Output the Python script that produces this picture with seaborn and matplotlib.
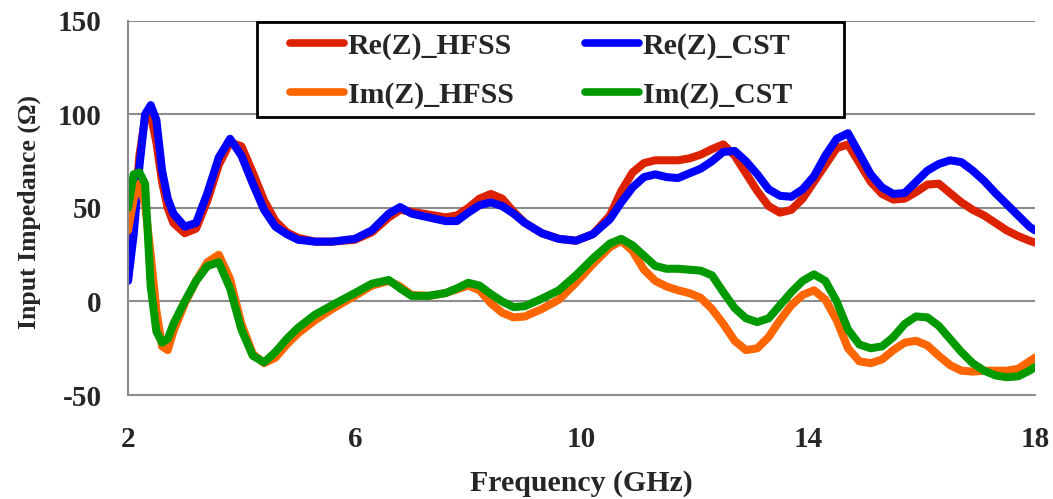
import matplotlib
matplotlib.use("Agg")
import matplotlib.pyplot as plt
from matplotlib.patches import Rectangle
import seaborn as sns
import pandas as pd

freq = [2.0, 2.1, 2.2, 2.3, 2.4, 2.5, 2.6, 2.7, 2.8, 3.0, 3.2, 3.4, 3.6, 3.8,
        4.0, 4.2, 4.4, 4.6, 4.8, 5.0, 5.3, 5.6, 6.0, 6.3, 6.6, 6.8, 7.0, 7.3,
        7.6, 7.8, 8.0, 8.2, 8.4, 8.6, 8.8, 9.0, 9.3, 9.6, 9.9, 10.2, 10.5, 10.7,
        10.9, 11.1, 11.3, 11.5, 11.7, 11.9, 12.1, 12.3, 12.5, 12.7, 12.9, 13.1,
        13.3, 13.5, 13.7, 13.9, 14.1, 14.3, 14.5, 14.7, 14.9, 15.1, 15.3, 15.5,
        15.7, 15.9, 16.1, 16.3, 16.5, 16.7, 16.9, 17.1, 17.3, 17.5, 17.7, 17.9, 18.0]

re_hfss = [12, 42, 78, 98, 100, 85, 64, 50, 42, 36.5, 39, 54, 73, 85,
           83, 69, 54, 43, 37, 34, 32, 32, 33, 37, 45, 49, 48, 46.5,
           45, 46, 50, 55, 57.5, 55, 48, 42, 36.5, 33.5, 32.5, 36, 46, 59,
           69, 74, 75.5, 75.5, 75.5, 76.5, 78.5, 81.5, 84, 78, 68.5, 59,
           51, 47.5, 49, 55, 64, 73, 82, 84, 74, 64, 57.5, 54.5,
           55, 58.5, 62.5, 63, 58, 53, 49, 46, 42, 38, 35, 32.5, 31.5]

re_cst = [11, 36, 72, 100, 105, 97, 70, 55, 47, 40, 42, 58, 77, 87,
          78, 63, 49, 40, 36, 33, 32, 32, 33.5, 38, 47, 50.5, 47, 45,
          43, 43, 47.5, 51.5, 53, 51, 47, 42, 36.5, 33.5, 32.5, 36, 44, 53,
          61, 66.5, 68, 66.5, 66, 68.5, 71, 75, 80, 80.5, 75, 68,
          60, 56.5, 56, 60, 67, 78, 87, 90, 79, 68, 61, 57.5,
          58, 64, 70, 73.5, 75.5, 74.5, 70, 64.5, 58, 52, 46, 40, 38]

im_hfss = [38, 55, 63, 52, 25, -5, -24, -26, -16, -1, 11, 21, 25, 12,
           -12, -28, -33, -30, -23, -17, -10, -4, 3, 8.5, 11, 8, 3.5, 3,
           4.5, 6.5, 8.5, 6, -1, -6, -8.5, -8, -4, 1, 10, 20, 29, 32.5,
           27, 17, 11, 8, 6, 4.5, 2, -4, -12, -21, -26, -25,
           -19, -10, -2, 3.5, 6, 1, -10, -25, -32, -33, -31, -26,
           -22, -21, -23.5, -29, -34, -37, -37.5, -37, -37, -37, -36, -32, -30]

im_cst = [50, 68, 69, 63, 8, -16, -22, -20, -12, 0, 11, 19, 21, 7,
          -15, -29, -32.5, -27, -20, -14, -7, -2, 4.5, 9.5, 11.5, 7, 3, 3,
          4.5, 7, 10, 8.5, 4, 0, -3, -2.5, 1.5, 6, 14, 23, 31, 33.5,
          30, 24.5, 19, 17.5, 17.5, 17, 16.5, 14, 5, -3.5, -9, -11,
          -9, -2, 5, 11, 14.5, 11, 0, -15, -23, -25, -24, -19,
          -12, -8, -8.5, -13, -20, -27, -33, -37, -39.5, -40.5, -40, -37, -35]

series_names = ["Re(Z)_HFSS", "Re(Z)_CST", "Im(Z)_HFSS", "Im(Z)_CST"]
colors = ["#DD2200", "#0000FF", "#FF6600", "#009900"]
y_ticks = [-50, 0, 50, 100, 150]
x_ticks = [2, 6, 10, 14, 18]

frames = []
for name, vals in zip(series_names, [re_hfss, re_cst, im_hfss, im_cst]):
    frames.append(pd.DataFrame({"freq": freq, "val": vals, "series": name}))
df = pd.concat(frames, ignore_index=True)

sns.set_style("white")
plt.rcParams["font.family"] = ["Liberation Serif", "DejaVu Serif"]
plt.rcParams["font.weight"] = "bold"
plt.rcParams["axes.unicode_minus"] = False

fig = plt.figure(figsize=(10.53, 4.99), dpi=100)
ax = fig.add_axes([0.1216, 0.2084, 0.8614, 0.7496])

sns.lineplot(data=df, x="freq", y="val", hue="series", hue_order=series_names,
             palette=dict(zip(series_names, colors)), estimator=None, sort=False,
             linewidth=5.8, ax=ax, legend=True)
for ln in ax.get_lines():
    ln.set_solid_joinstyle("round")
    ln.set_solid_capstyle("round")

ax.set_xlim(2, 18)
ax.set_ylim(-50, 150)
ax.set_xticks(x_ticks)
ax.set_yticks(y_ticks)
ax.yaxis.grid(True, color="#8c8c8c", linewidth=1.5)
ax.xaxis.grid(False)
for s in ["top", "right"]:
    ax.spines[s].set_visible(False)
for s in ["left", "bottom"]:
    ax.spines[s].set_color("#8c8c8c")
    ax.spines[s].set_linewidth(1.5)
ax.tick_params(axis="both", direction="out", length=7, width=1.5, color="#8c8c8c")
ax.tick_params(axis="x", pad=15, labelsize=21)
ax.tick_params(axis="y", pad=12, labelsize=21)
for lab in ax.get_xticklabels() + ax.get_yticklabels():
    lab.set_fontweight("bold")

ax.set_xlabel("Frequency (GHz)", fontsize=21.5, fontweight="bold")
ax.set_ylabel("Input Impedance (Ω)", fontsize=18.5, fontweight="bold")
ax.xaxis.set_label_coords(0.5, -0.2)
ax.yaxis.set_label_coords(-0.096, 0.49)

# legend frame box
box = Rectangle((0.1422, 0.7433), 0.6472, 0.254, transform=ax.transAxes,
                facecolor="white", edgecolor="black", linewidth=2.0, zorder=5)
ax.add_patch(box)

handles, labels = ax.get_legend_handles_labels()
hmap = dict(zip(labels, handles))
leg_order = ["Re(Z)_HFSS", "Im(Z)_HFSS", "Re(Z)_CST", "Im(Z)_CST"]
leg = ax.legend([hmap[k] for k in leg_order], leg_order, ncol=2,
                loc="upper left", bbox_to_anchor=(0.1786, 0.97),
                frameon=False, prop={"size": 21.5, "weight": "bold"},
                handlelength=1.8, handletextpad=0.13, columnspacing=2.4,
                labelspacing=0.73, borderpad=0.0, borderaxespad=0.0)
leg.set_zorder(6)
for h in leg.get_lines():
    h.set_linewidth(5.5)

fig.savefig("out.png", dpi=100)
